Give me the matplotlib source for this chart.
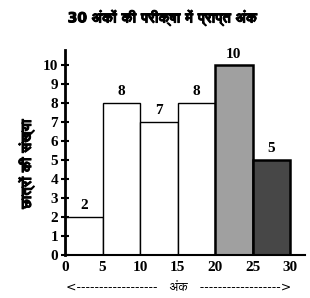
import matplotlib
matplotlib.use('Agg')
import matplotlib.pyplot as plt
import matplotlib.patheffects as pe
from matplotlib import font_manager
from matplotlib.ft2font import FT2Font

# data
bin_left = [0, 5, 10, 15, 20, 25]
counts = [2, 8, 7, 8, 10, 5]
bar_colors = ['white', 'white', 'white', 'white', '#a0a0a0', '#474747']
x_ticks = [0, 5, 10, 15, 20, 25, 30]
y_ticks = list(range(0, 11))

title = '30 अंकों की परीक्षा में प्राप्त अंक'
ylabel = 'छात्रों की संख्या'
xlabel = '<------------------   अंक   ------------------>'

# find a font with Devanagari glyphs (prefer a bold face)
deva = None
deva_bold = False
for f in font_manager.fontManager.ttflist:
    try:
        if 0x0905 in FT2Font(f.fname).get_charmap():
            isbold = f.weight in ('bold', 700, 'heavy', 800, 900) or (isinstance(f.weight, int) and f.weight >= 600)
            if deva is None or (isbold and not deva_bold):
                deva, deva_bold = f.name, isbold
    except Exception:
        pass
deva_family = ['DejaVu Sans', deva] if deva else ['DejaVu Sans']
thick = [pe.withStroke(linewidth=0.7, foreground='black')]

fig = plt.figure(figsize=(3.10, 2.98), dpi=100)
ax = fig.add_axes([0.21, 0.144, 0.774, 0.688])

ax.bar(bin_left[:4], counts[:4], width=5, align='edge', color=bar_colors[:4],
       edgecolor='black', linewidth=1.0)
ax.bar(bin_left[4:], counts[4:], width=5, align='edge', color=bar_colors[4:],
       edgecolor='black', linewidth=1.8)
for x, c in zip(bin_left, counts):
    ax.text(x + 2.5, c + 0.25, str(c), ha='center', va='bottom',
            fontfamily='Liberation Serif', fontweight='bold', fontsize=11)

ax.set_xlim(0, 32)
ax.set_ylim(0, 10.8)
ax.set_xticks(x_ticks)
ax.set_yticks(y_ticks)
for lab in ax.get_xticklabels() + ax.get_yticklabels():
    lab.set_fontfamily('Liberation Serif')
    lab.set_fontweight('bold')
    lab.set_fontsize(11)
ax.tick_params(axis='x', length=0, pad=4)
ax.tick_params(axis='y', direction='inout', length=6, width=1.5, pad=2)
ax.spines['top'].set_visible(False)
ax.spines['right'].set_visible(False)
ax.spines['left'].set_linewidth(2)
ax.spines['bottom'].set_linewidth(1.5)

fig.text(0.525, 0.94, title, ha='center', va='center', fontsize=10,
         fontweight='bold', family=deva_family, path_effects=thick)
fig.text(0.085, 0.45, ylabel, ha='center', va='center', rotation=90,
         fontsize=10, fontweight='bold', family=deva_family, path_effects=thick)
fig.text(0.575, 0.035, xlabel, ha='center', va='center', fontsize=9,
         family=deva_family)

fig.savefig('out.png', dpi=100)
